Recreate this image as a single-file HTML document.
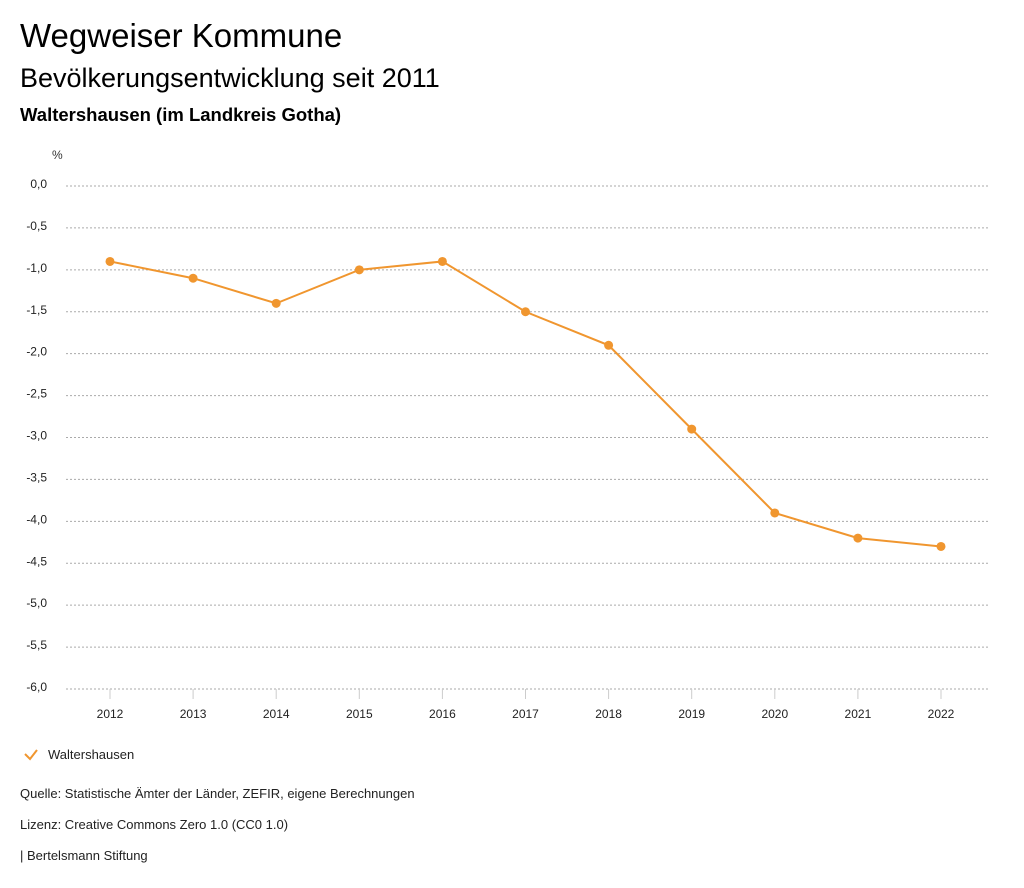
<!DOCTYPE html>
<html><head><meta charset="utf-8"><style>
body{margin:0;background:#fff;font-family:"Liberation Sans",sans-serif;color:#000}
.t{position:absolute;left:20px;white-space:nowrap}
</style></head><body>
<div style="position:relative;width:1024px;height:888px;overflow:hidden">
<div class="t" style="top:17px;font-size:33px">Wegweiser Kommune</div>
<div class="t" style="top:63px;font-size:27px">Bevölkerungsentwicklung seit 2011</div>
<div class="t" style="top:104px;font-size:18.5px;font-weight:bold">Waltershausen (im Landkreis Gotha)</div>
<svg id="chart" width="1024" height="888" style="position:absolute;left:0;top:0" font-family="Liberation Sans, sans-serif"></svg>
<div class="t" style="top:786px;font-size:13px;color:#222">Quelle: Statistische Ämter der Länder, ZEFIR, eigene Berechnungen</div>
<div class="t" style="top:817px;font-size:13px;color:#222">Lizenz: Creative Commons Zero 1.0 (CC0 1.0)</div>
<div class="t" style="top:848px;font-size:13px;color:#222">| Bertelsmann Stiftung</div>
</div>
<script>
const years=[2012,2013,2014,2015,2016,2017,2018,2019,2020,2021,2022];
const values=[-0.9,-1.1,-1.4,-1.0,-0.9,-1.5,-1.9,-2.9,-3.9,-4.2,-4.3];
const yTicks=[0,-0.5,-1,-1.5,-2,-2.5,-3,-3.5,-4,-4.5,-5,-5.5,-6];
const seriesName="Waltershausen";
const NS="http://www.w3.org/2000/svg";
const svg=document.getElementById('chart');
const x=i=>110+i*(941-110)/(years.length-1);
const y=v=>186+(0-v)*(689-186)/6;
function mk(tag,attrs,parent){const e=document.createElementNS(NS,tag);for(const k in attrs)e.setAttribute(k,attrs[k]);(parent||svg).appendChild(e);return e;}
let u=mk('text',{x:52,y:159,'font-size':12,fill:'#333'});u.textContent='%';


yTicks.forEach(v=>{
  const l=mk('line',{x1:66,x2:990,y1:y(v),y2:y(v),stroke:'#aaa','stroke-dasharray':'2,2','stroke-width':1});
  
  
  const t=mk('text',{x:47,y:y(v)+2,'text-anchor':'end','font-size':12,fill:'#222'});
  t.textContent=v.toFixed(1).replace('.',',').replace('-0,0','0,0');
  
  
});
years.forEach((yr,i)=>{
  const tk=mk('line',{x1:x(i),x2:x(i),y1:689,y2:699,stroke:'#ccc'});
  
  
  const t=mk('text',{x:x(i),y:718,'text-anchor':'middle','font-size':12,fill:'#222'});
  t.textContent=yr;
  
  
});
const line=mk('polyline',{points:values.map((v,i)=>x(i)+','+y(v)).join(' '),fill:'none',stroke:'#f0962f','stroke-width':2});


values.forEach((v,i)=>{
  const c=mk('circle',{cx:x(i),cy:y(v),r:4.5,fill:'#f0962f'});
  
  
});
const g=mk('g',{});


mk('polyline',{points:'25,754 30,759 37,750',fill:'none',stroke:'#f0962f','stroke-width':2},g);
const lt=mk('text',{x:48,y:759,'font-size':13,fill:'#222'},g);lt.textContent=seriesName;
</script>
</body></html>
